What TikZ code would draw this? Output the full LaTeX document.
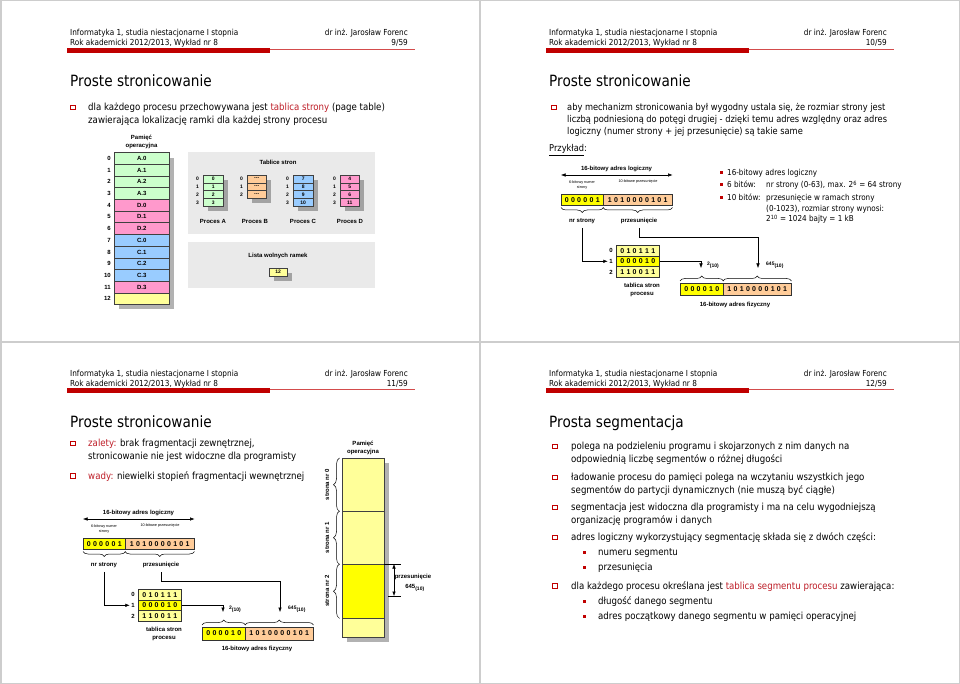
\documentclass[tikz,border=0pt]{standalone}
\usepackage{fontspec}
\setmainfont{DejaVu Sans}[FakeStretch=0.88]
\newfontfamily\arial{Liberation Sans}
\usepackage{xcolor}
\definecolor{czerwony}{RGB}{192,0,0}
\definecolor{wyroznienie}{RGB}{190,30,40}
\definecolor{ramka}{RGB}{205,205,205}
\definecolor{panel}{RGB}{234,234,234}
\definecolor{zielony}{RGB}{204,255,204}
\definecolor{rozowy}{RGB}{255,153,204}
\definecolor{niebieski}{RGB}{153,204,255}
\definecolor{pomarancz}{RGB}{255,204,153}
\definecolor{zoltyjasny}{RGB}{255,255,153}
\definecolor{zolty}{RGB}{255,255,0}
\usetikzlibrary{positioning, arrows.meta, decorations.pathreplacing}

\newcommand\cyfry[1]{\cyfryx#1\relax}
\def\cyfryx#1{\ifx\relax#1\kern-2.3pt\else#1\kern2.3pt\expandafter\cyfryx\fi}

\newcommand\glowka[3]{%
  \begin{scope}[shift={#2}]
    \node[naglowek, anchor=base west] (#1kurs) at (70,46) {Informatyka 1, studia niestacjonarne I stopnia\\Rok akademicki 2012/2013, Wykład nr 8};
    \node[naglowek, anchor=base east, align=right] (#1autor) at (408,46) {dr inż. Jarosław Forenc\\#3/59};
    \fill[czerwony] (67,48) rectangle (270,53);
    \draw[czerwony!70, line width=0.7pt] (270,49.5) -- (415,49.5);
  \end{scope}}

\newcommand\adres[1]{%
  \node[pole, fill=zolty, minimum width=42pt, minimum height=11pt] (#1nr) at (0,0) {\cyfry{000001}};
  \node[pole, fill=pomarancz, minimum width=69pt, minimum height=11pt] (#1off) at (42,0) {\cyfry{1010000101}};
  \node[etykieta] (#1log) at (55.5,-25) {16-bitowy adres logiczny};
  \draw[{Latex[length=4.5pt,width=3.5pt]}-{Latex[length=4.5pt,width=3.5pt]}, line width=0.5pt] ([yshift=19pt]#1nr.north west) -- ([yshift=19pt]#1off.north east);
  \node[mikro] (#1opnr) at (21,-9) {6-bitowy numer\\strony};
  \node[mikro] (#1opoff) at (77,-12) {10-bitowe przesunięcie};
  \draw[klamra] ([yshift=-2pt]#1nr.south east) -- ([yshift=-2pt]#1nr.south west);
  \draw[klamra] ([yshift=-2pt]#1off.south east) -- ([yshift=-2pt]#1off.south west);
  \node[etykieta] (#1nrs) at (21,27) {nr strony};
  \node[etykieta] (#1prz) at (78,27) {przesunięcie};
  \node[pole, fill=zoltyjasny, minimum width=43pt, minimum height=10.7pt] (#1t0) at (55,51) {\cyfry{010111}};
  \node[pole, fill=zolty, minimum width=43pt, minimum height=10.7pt] (#1t1) at (55,61.7) {\cyfry{000010}};
  \node[pole, fill=zoltyjasny, minimum width=43pt, minimum height=10.7pt] (#1t2) at (55,72.4) {\cyfry{110011}};
  \node[etykieta, left=3pt of #1t0] (#1e0) {0};
  \node[etykieta, left=3pt of #1t1] (#1e1) {1};
  \node[etykieta, left=3pt of #1t2] (#1e2) {2};
  \node[etykieta] (#1opis) at (81,96) {tablica stron\\procesu};
  \node[pole, fill=zolty, minimum width=43pt, minimum height=12.5pt] (#1fnr) at (119,89) {\cyfry{000010}};
  \node[pole, fill=pomarancz, minimum width=68pt, minimum height=12.5pt] (#1foff) at (162,89) {\cyfry{1010000101}};
  \node[etykieta] (#1fiz) at (174,111) {16-bitowy adres fizyczny};
  \draw[klamra] ([yshift=2pt]#1fnr.north west) -- ([yshift=2pt]#1fnr.north east);
  \draw[klamra] ([yshift=2pt]#1foff.north west) -- ([yshift=2pt]#1foff.north east);
  \coordinate (#1c1) at (140,74);
  \coordinate (#1c2) at (197,74);
  \coordinate (#1z2) at (197,43);
  \draw[strzalka] ([yshift=-4pt]#1nrs.south) |- ([xshift=-1.5pt]#1e1.west);
  \draw[strzalka] ([yshift=-4pt]#1prz.south) |- (#1z2) -- (#1c2);
  \draw[strzalka] (#1t1.east) -| (#1c1);
  \node[drobne, anchor=west] (#1w1) at (146,71) {2\textsubscript{(10)}};
  \node[drobne, anchor=west] (#1w2) at (205,71) {645\textsubscript{(10)}};
}

\begin{document}
\begin{tikzpicture}[x=1pt, y=-1pt,
  naglowek/.style={font=\fontsize{8.3}{10}\selectfont, inner sep=0pt, align=left},
  tytul/.style={font=\fontsize{15.5}{18}\selectfont, inner sep=0pt, anchor=base west},
  tekst/.style={font=\fontsize{9.8}{13}\selectfont, inner sep=0pt, anchor=base west, align=left},
  tekstb/.style={font=\fontsize{9.4}{11.8}\selectfont, inner sep=0pt, anchor=base west, align=left},
  maly/.style={font=\fontsize{8.2}{10.7}\selectfont, inner sep=0pt, anchor=base west, align=left},
  punkt/.style={draw=czerwony, line width=0.6pt, minimum size=4.5pt, inner sep=0pt},
  kropka/.style={fill=czerwony, minimum size=3pt, inner sep=0pt},
  etykieta/.style={font=\arial\bfseries\fontsize{6}{7.5}\selectfont, inner sep=0pt, align=center},
  drobne/.style={font=\arial\bfseries\fontsize{5}{6}\selectfont, inner sep=0pt},
  mikro/.style={font=\arial\fontsize{3.8}{5}\selectfont, inner sep=0pt, align=center},
  komorka/.style={draw=black!75, line width=0.4pt, inner sep=0pt, font=\arial\bfseries\fontsize{6}{7}\selectfont},
  kratka/.style={draw=black!75, line width=0.4pt, inner sep=0pt, minimum width=20pt, minimum height=7.75pt, anchor=north west, font=\arial\bfseries\fontsize{5}{6}\selectfont},
  pole/.style={draw=black!80, line width=0.5pt, inner sep=0pt, anchor=north west, font=\arial\bfseries\fontsize{7}{8}\selectfont},
  tlo/.style={fill=panel, inner sep=0pt, anchor=north west},
  cien/.style={fill=black, opacity=0.3},
  strzalka/.style={-{Latex[length=4.5pt,width=3.5pt]}, line width=0.5pt},
  klamra/.style={decorate, decoration={brace, amplitude=#1}, line width=0.5pt},
  klamra/.default=5pt
]
  \useasboundingbox (0,0) rectangle (960,684);
  \fill[white] (0,0) rectangle (960,684);

  \glowka{s9}{(0,0)}{9}
  \glowka{s10}{(479,0)}{10}
  \glowka{s11}{(0,340)}{11}
  \glowka{s12}{(479,340)}{12}

  \node[tytul] (s9tytul) at (70,87) {Proste stronicowanie};
  \node[punkt] (s9p1) at (73,107.5) {};
  \node[tekst] (s9t1) at (88,123.5) {dla każdego procesu przechowywana jest \textcolor{wyroznienie}{tablica strony} (page table)\\zawierająca lokalizację ramki dla każdej strony procesu};

  \node[etykieta] (pamiec) at (141.5,142) {Pamięć\\operacyjna};
  \fill[cien] (119,158) rectangle (174,309);
  \foreach \etyk/\kol [count=\i from 0] in {A.0/zielony, A.1/zielony, A.2/zielony, A.3/zielony, D.0/rozowy, D.1/rozowy, D.2/rozowy, C.0/niebieski, C.1/niebieski, C.2/niebieski, C.3/niebieski, D.3/rozowy, /zoltyjasny} {
    \node[komorka, fill=\kol, minimum width=55pt, minimum height=11.7pt, anchor=north west] (ram\i) at (114,{152.3+11.7*\i}) {\etyk};
    \node[etykieta, left=3pt of ram\i] (nrram\i) {\i};
  }

  \node[tlo, minimum width=187pt, minimum height=82pt] (tablice) at (188,152) {};
  \node[etykieta] (tytulTablic) at (278,162) {Tablice stron};
  \fill[cien] (208,180) rectangle (228,211);
  \fill[cien] (252,180) rectangle (271,203.25);
  \fill[cien] (298,180) rectangle (318,211);
  \fill[cien] (345,180) rectangle (364,211);
  \foreach \w [count=\i from 0] in {0,1,2,3} {
    \node[kratka, fill=zielony] (tabA\i) at (203,{175+7.75*\i}) {\w};
    \node[drobne, left=4pt of tabA\i] (nrA\i) {\i};
  }
  \foreach \i in {0,1,2} {
    \node[kratka, fill=pomarancz, minimum width=19pt] (tabB\i) at (247,{175+7.75*\i}) {-{}-{}-};
    \node[drobne, left=4pt of tabB\i] (nrB\i) {\i};
  }
  \foreach \w [count=\i from 0] in {7,8,9,10} {
    \node[kratka, fill=niebieski] (tabC\i) at (293,{175+7.75*\i}) {\w};
    \node[drobne, left=4pt of tabC\i] (nrC\i) {\i};
  }
  \foreach \w [count=\i from 0] in {4,5,6,11} {
    \node[kratka, fill=rozowy, minimum width=19pt] (tabD\i) at (340,{175+7.75*\i}) {\w};
    \node[drobne, left=4pt of tabD\i] (nrD\i) {\i};
  }
  \node[etykieta] (procA) at (213,221) {Proces A};
  \node[etykieta] (procB) at (255,221) {Proces B};
  \node[etykieta] (procC) at (303,221) {Proces C};
  \node[etykieta] (procD) at (350,221) {Proces D};

  \node[tlo, minimum width=187pt, minimum height=46pt] (lista) at (188,242) {};
  \node[etykieta] (tytulListy) at (278,256) {Lista wolnych ramek};
  \fill[cien] (274,273) rectangle (292,281);
  \node[kratka, fill=zoltyjasny, minimum width=18pt, minimum height=8pt] (wolna) at (269,268) {12};

  \node[tytul] (s10tytul) at (549,87) {Proste stronicowanie};
  \node[punkt] (s10p1) at (554,107.5) {};
  \node[tekstb] (s10t1) at (567,134.1) {aby mechanizm stronicowania był wygodny ustala się, że rozmiar strony jest\\liczbą podniesioną do potęgi drugiej - dzięki temu adres względny oraz adres\\logiczny (numer strony + jej przesunięcie) są takie same};
  \node[tekstb] (s10przyklad) at (549,151.5) {\underline{Przykład}:};

  \begin{scope}[shift={(561,194)}]
    \adres{a}
  \end{scope}

  \node[kropka] (s10k1) at (721.5,172.5) {};
  \node[kropka] (s10k2) at (721.5,185) {};
  \node[kropka] (s10k3) at (721.5,197.5) {};
  \node[maly] (s10m1) at (727,175.5) {16-bitowy adres logiczny};
  \node[maly] (s10m2) at (727,188) {6 bitów:};
  \node[maly] (s10m2b) at (766,188) {nr strony (0-63), max. 2\textsuperscript{6} = 64 strony};
  \node[maly] (s10m3) at (727,200.5) {10 bitów:};
  \node[maly] (s10m3b) at (766,221.9) {przesunięcie w ramach strony\\(0-1023), rozmiar strony wynosi:\\2\textsuperscript{10} = 1024 bajty = 1 kB};

  \node[tytul] (s11tytul) at (70,427) {Proste stronicowanie};
  \node[punkt] (s11p1) at (73,443.5) {};
  \node[tekst] (s11t1) at (88,459.5) {\textcolor{wyroznienie}{zalety:} brak fragmentacji zewnętrznej,\\stronicowanie nie jest widoczne dla programisty};
  \node[punkt] (s11p2) at (73,476) {};
  \node[tekst] (s11t2) at (88,479) {\textcolor{wyroznienie}{wady:} niewielki stopień fragmentacji wewnętrznej};

  \begin{scope}[shift={(83,538)}]
    \adres{b}
  \end{scope}

  \node[etykieta] (pamiec2) at (363,448) {Pamięć\\operacyjna};
  \fill[cien] (347,463) rectangle (389,642);
  \node[komorka, fill=zoltyjasny, minimum width=42pt, minimum height=53pt, anchor=north west] (strona0) at (342,458) {};
  \node[komorka, fill=zoltyjasny, minimum width=42pt, minimum height=53pt, anchor=north west] (strona1) at (342,511) {};
  \node[komorka, fill=zolty, minimum width=42pt, minimum height=54pt, anchor=north west] (strona2) at (342,564) {};
  \node[komorka, fill=zoltyjasny, minimum width=42pt, minimum height=19pt, anchor=north west] (reszta) at (342,618) {};
  \draw[klamra=6pt] ([xshift=-2.5pt]strona0.south west) -- ([xshift=-2.5pt]strona0.north west);
  \draw[klamra=6pt] ([xshift=-2.5pt]strona1.south west) -- ([xshift=-2.5pt]strona1.north west);
  \draw[klamra=6pt] ([xshift=-2.5pt]strona2.south west) -- ([xshift=-2.5pt]strona2.north west);
  \node[etykieta, rotate=90] (opis0) at (327,484.5) {strona nr 0};
  \node[etykieta, rotate=90] (opis1) at (327,537.5) {strona nr 1};
  \node[etykieta, rotate=90] (opis2) at (327,591) {strona nr 2};
  \coordinate (przg) at (394,564);
  \coordinate (przd) at (394,596);
  \draw[line width=0.5pt] (strona2.north east) -- ([xshift=7pt]przg);
  \draw[line width=0.5pt] ([xshift=-6pt]przd) -- ([xshift=7pt]przd);
  \draw[{Latex[length=4.5pt,width=3.5pt]}-{Latex[length=4.5pt,width=3.5pt]}, line width=0.5pt] (przg) -- (przd);
  \node[etykieta] (przes) at (413,577) {przesunięcie};
  \node[etykieta] (wart) at (415,588) {645\textsubscript{(10)}};

  \node[tytul] (s12tytul) at (549,427) {Prosta segmentacja};
  \node[punkt] (s12p1) at (555,446.5) {};
  \node[tekst] (s12t1) at (571,462.5) {polega na podzieleniu programu i skojarzonych z nim danych na\\odpowiednią liczbę segmentów o różnej długości};
  \node[punkt] (s12p2) at (555,477.5) {};
  \node[tekst] (s12t2) at (571,493.5) {ładowanie procesu do pamięci polega na wczytaniu wszystkich jego\\segmentów do partycji dynamicznych (nie muszą być ciągłe)};
  \node[punkt] (s12p3) at (555,507.5) {};
  \node[tekst] (s12t3) at (571,523.5) {segmentacja jest widoczna dla programisty i ma na celu wygodniejszą\\organizację programów i danych};
  \node[punkt] (s12p4) at (555,537.5) {};
  \node[tekst] (s12t4) at (571,540.5) {adres logiczny wykorzystujący segmentację składa się z dwóch części:};
  \node[kropka] (s12k1) at (584,552.5) {};
  \node[tekst] (s12s1) at (598,555.5) {numeru segmentu};
  \node[kropka] (s12k2) at (584,567.5) {};
  \node[tekst] (s12s2) at (598,570.5) {przesunięcia};
  \node[punkt] (s12p5) at (555,586) {};
  \node[tekst] (s12t5) at (571,589) {dla każdego procesu określana jest \textcolor{wyroznienie}{tablica segmentu procesu} zawierająca:};
  \node[kropka] (s12k3) at (584,601) {};
  \node[tekst] (s12s3) at (598,604) {długość danego segmentu};
  \node[kropka] (s12k4) at (584,616) {};
  \node[tekst] (s12s4) at (598,619) {adres początkowy danego segmentu w pamięci operacyjnej};

  \draw[ramka, line width=1.5pt] (0.75,0.75) rectangle (959.25,683.25);
  \draw[ramka, line width=1.5pt] (480,0) -- (480,684);
  \draw[ramka, line width=1.5pt] (0,342) -- (960,342);
\end{tikzpicture}
\end{document}
